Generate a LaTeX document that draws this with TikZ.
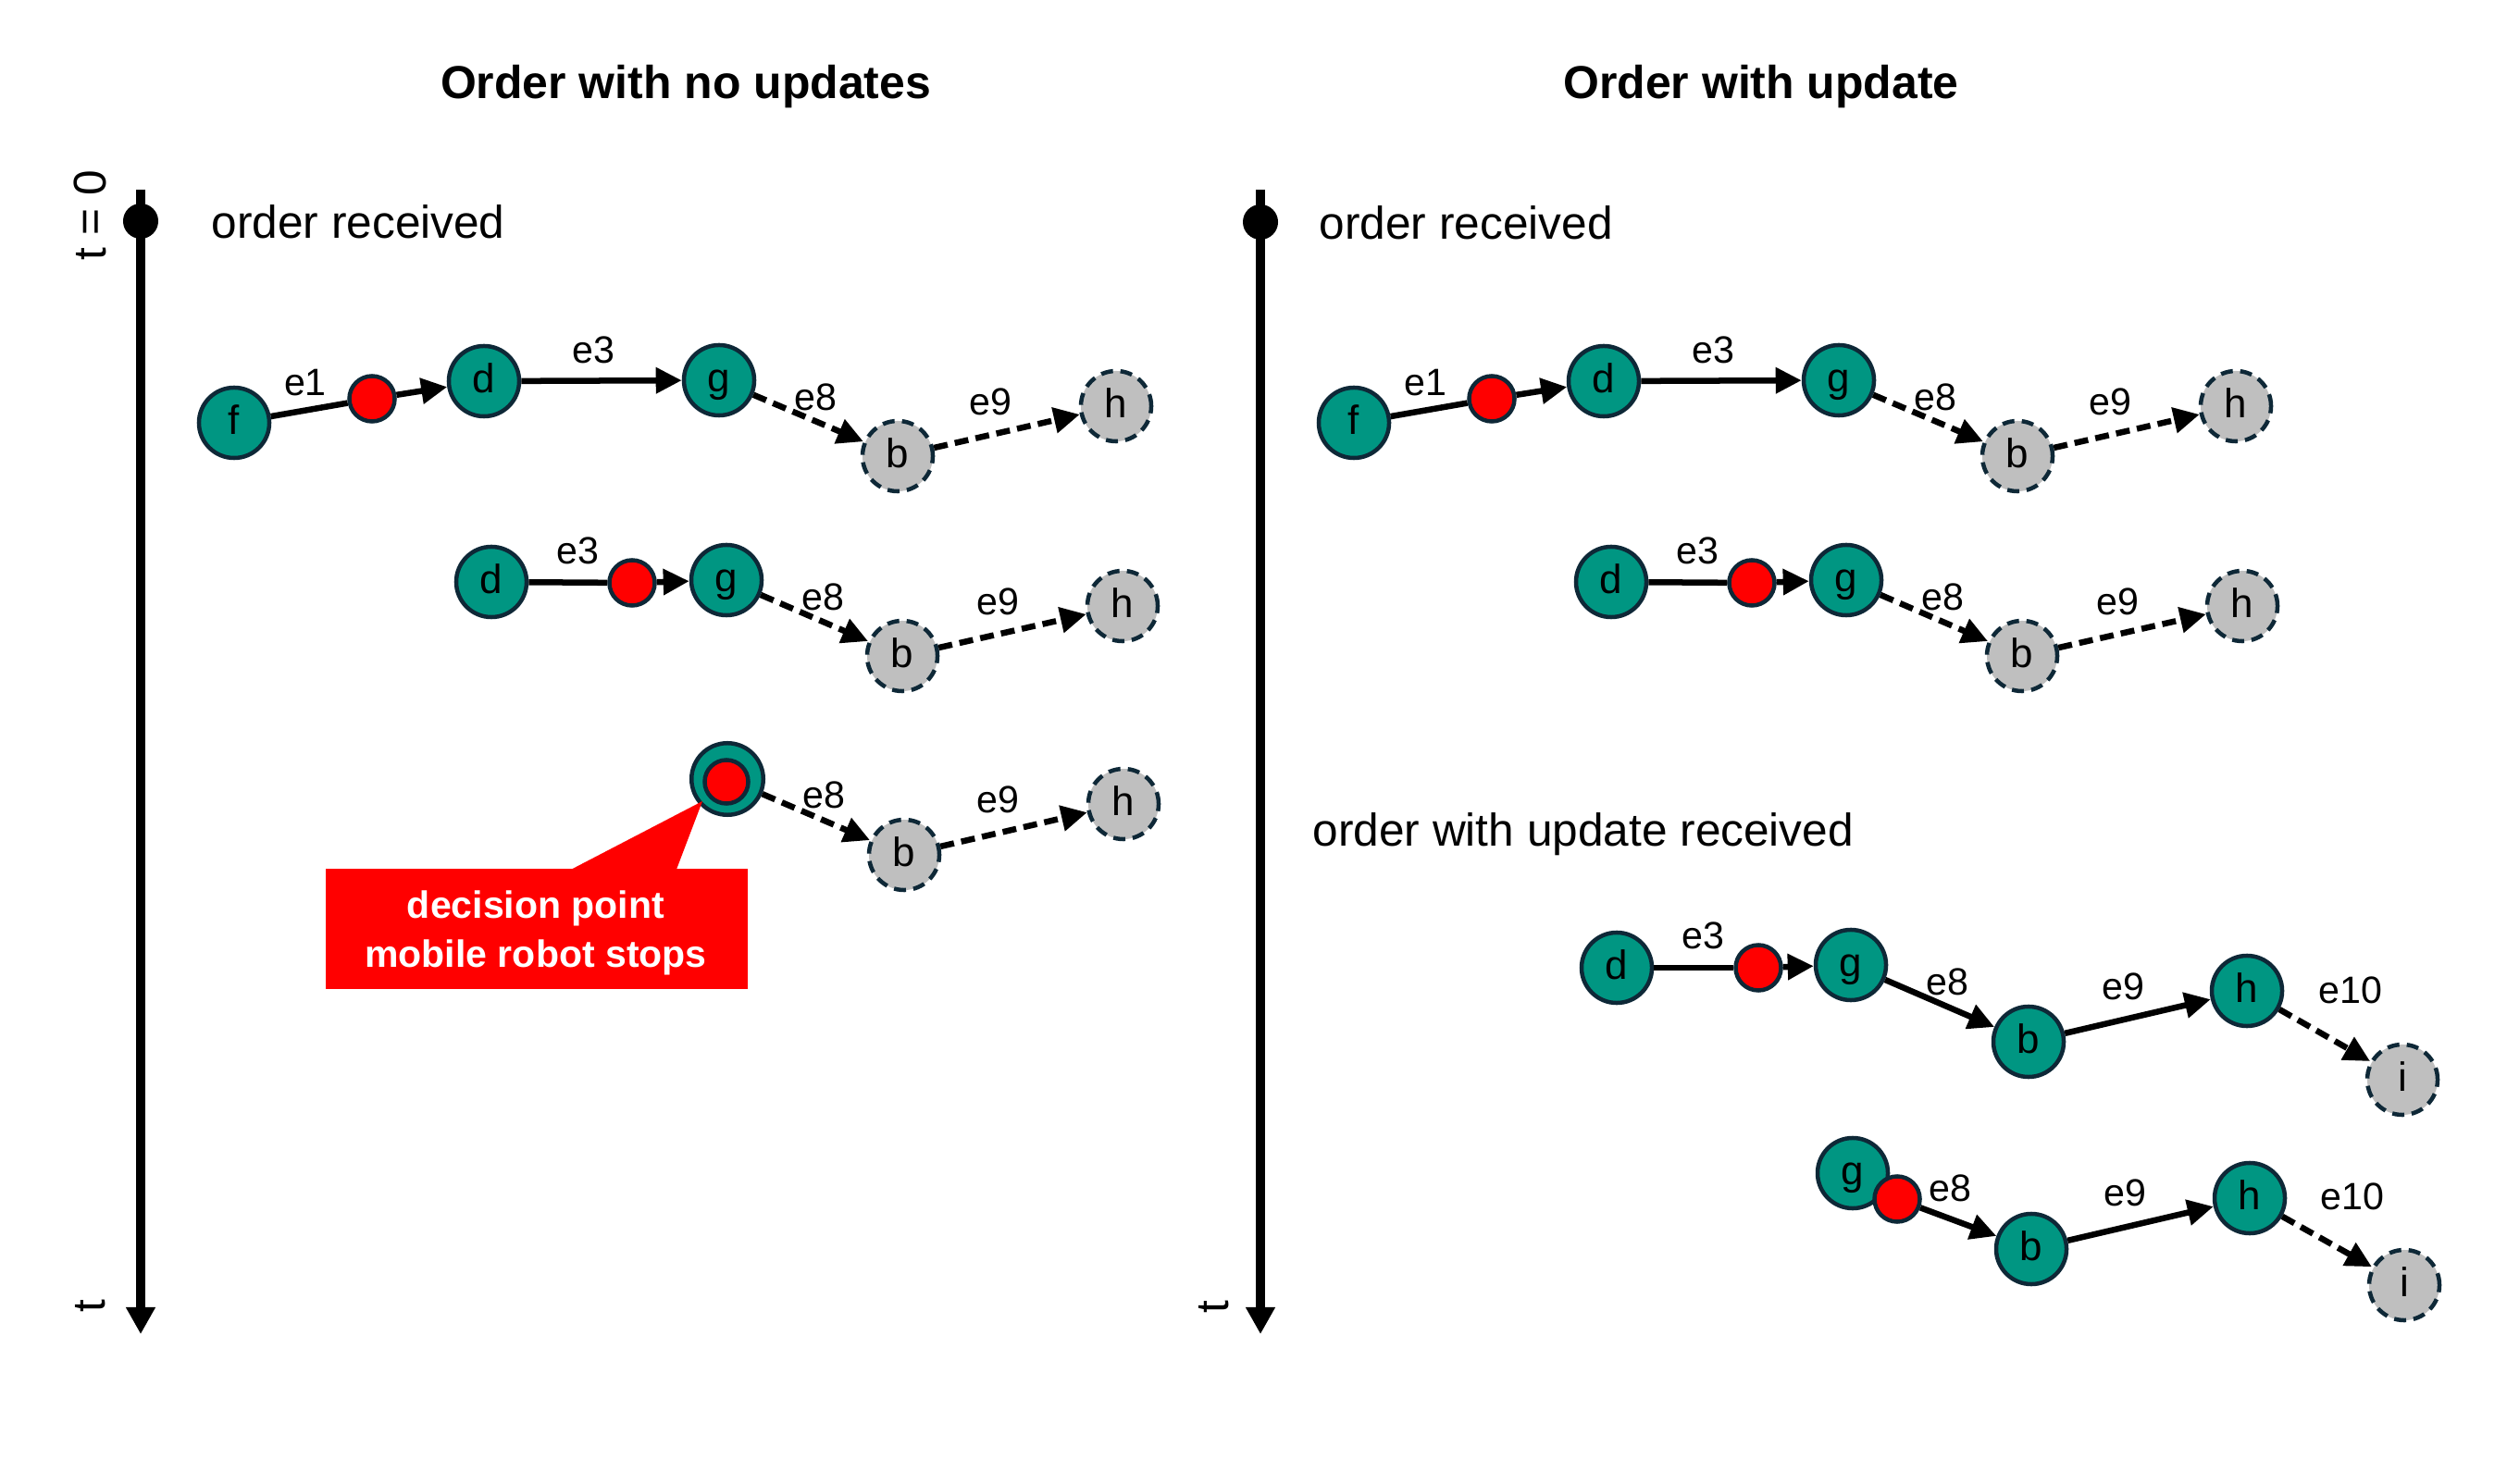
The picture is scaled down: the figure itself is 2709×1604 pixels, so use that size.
\documentclass[tikz,border=0pt]{standalone}
\usepackage{fontspec}
\setmainfont{Liberation Sans}
\usetikzlibrary{arrows.meta,calc}
\definecolor{teal1}{RGB}{0,150,130}
\definecolor{navy1}{RGB}{14,40,55}
\definecolor{gray1}{RGB}{191,191,191}
\definecolor{red1}{RGB}{255,0,0}
\begin{document}
\begin{tikzpicture}[x=0.01cm,y=-0.01cm,
  tn/.style={circle,fill=teal1,draw=navy1,line width=0.045cm,minimum size=0.76cm,inner sep=0pt,
    font=\fontsize{12.5pt}{14pt}\selectfont,text height=0.72em,text depth=0pt},
  gn/.style={tn,fill=gray1,dash pattern=on 0.13cm off 0.08cm},
  rd/.style={circle,fill=red1,draw=navy1,line width=0.045cm,minimum size=0.49cm,inner sep=0pt},
  el/.style={font=\fontsize{11.7pt}{13pt}\selectfont,inner sep=0pt,text height=0.72em,text depth=0pt},
  big/.style={font=\fontsize{14.1pt}{16pt}\selectfont,inner sep=0pt},
  ttl/.style={font=\fontsize{14.2pt}{16pt}\selectfont\bfseries,inner sep=0pt,anchor=base},
  calltext/.style={font=\fontsize{11.67pt}{14pt}\selectfont\bfseries,text=white,inner sep=0pt,anchor=base},
  ed/.style={line width=0.065cm},
  ar/.style={ed,-{Triangle[length=0.28cm,width=0.27cm]}},
  da/.style={ar,dash pattern=on 0.15cm off 0.08cm},
  tax/.style={line width=0.1cm,-{Triangle[length=0.29cm,width=0.3cm]}},
]
\path[use as bounding box] (0,0) rectangle (2709,1604);

% titles
\node[ttl] (T1) at (741,107) {Order with no updates};
\node[ttl] (T2) at (1903,107) {Order with update};

% time axes
\coordinate (A1top) at (152,205);
\coordinate (A1bot) at (152,1442);
\draw[tax] (A1top) -- (A1bot);
\node[circle,fill=black,minimum size=0.38cm,inner sep=0pt] (A1dot) at (152,239) {};
\node[big,rotate=90,anchor=base] (L10) at (114,233) {t = 0};
\node[big,rotate=90,anchor=base] (L1t) at (113,1412) {t};
\node[big,anchor=base west] (OR1) at (228,258) {order received};

\coordinate (A2top) at (1362,205);
\coordinate (A2bot) at (1362,1442);
\draw[tax] (A2top) -- (A2bot);
\node[circle,fill=black,minimum size=0.38cm,inner sep=0pt] (A2dot) at (1362,240) {};
\node[big,rotate=90,anchor=base] (L2t) at (1327,1413) {t};
\node[big,anchor=base west] (OR2) at (1425,259) {order received};
\node[big,anchor=base west] (OU2) at (1418,915) {order with update received};

% ---------- left row 1
\node[tn] (f1) at (253,457) {f};
\node[rd] (r1) at (402,431) {};
\node[tn] (d1) at (523,412) {d};
\node[tn] (g1) at (777,411) {g};
\node[gn] (b1) at (970,493) {b};
\node[gn] (h1) at (1206,439) {h};
\draw[ed] (f1) -- (r1);
\draw[ar] (r1) -- (d1);
\draw[ar] (d1) -- (g1);
\draw[da] (g1) -- (b1);
\draw[da] (b1) -- (h1);
\node[el] (l1a) at (330,415) {e1};
\node[el] (l1b) at (641,380) {e3};
\node[el] (l1c) at (881,431) {e8};
\node[el] (l1d) at (1070,436) {e9};

% ---------- left row 2
\node[tn] (d2) at (531,629) {d};
\node[rd] (r2) at (683,630) {};
\node[tn] (g2) at (785,627) {g};
\node[gn] (b2) at (975,709) {b};
\node[gn] (h2) at (1213,655) {h};
\draw[ed] (d2) -- (r2);
\draw[ar] (r2) -- (g2);
\draw[da] (g2) -- (b2);
\draw[da] (b2) -- (h2);
\node[el] (l2a) at (624,597) {e3};
\node[el] (l2b) at (889,647) {e8};
\node[el] (l2c) at (1078,652) {e9};

% ---------- left row 3
\node[tn,minimum size=0.775cm] (g3) at (786,842) {};
\node[rd,minimum size=0.47cm] (r3) at (785,845) {};
\node[gn] (b3) at (977,924) {b};
\node[gn] (h3) at (1214,869) {h};
\draw[da] (g3) -- (b3);
\draw[da] (b3) -- (h3);
\node[el] (l3a) at (890,861) {e8};
\node[el] (l3b) at (1078,866) {e9};

% callout
\node[fill=red1,minimum width=4.56cm,minimum height=1.30cm,inner sep=0pt] (call) at (580,1004) {};
\coordinate (ctip) at ($(g3.center)+(-27,24)$);
\fill[red1] ($(call.north west)+(267,1)$) -- (ctip) -- ($(call.north west)+(380,1)$) -- cycle;
\node[calltext] (c1) at (579,993) {decision point};
\node[calltext] (c2) at (579,1045) {mobile robot stops};

% ---------- right row 1
\node[tn] (F1) at (1463,457) {f};
\node[rd] (R1) at (1612,431) {};
\node[tn] (D1) at (1733,412) {d};
\node[tn] (G1) at (1987,411) {g};
\node[gn] (B1) at (2180,493) {b};
\node[gn] (H1) at (2416,439) {h};
\draw[ed] (F1) -- (R1);
\draw[ar] (R1) -- (D1);
\draw[ar] (D1) -- (G1);
\draw[da] (G1) -- (B1);
\draw[da] (B1) -- (H1);
\node[el] (M1a) at (1540,415) {e1};
\node[el] (M1b) at (1851,380) {e3};
\node[el] (M1c) at (2091,431) {e8};
\node[el] (M1d) at (2280,436) {e9};

% ---------- right row 2
\node[tn] (D2) at (1741,629) {d};
\node[rd] (R2) at (1893,630) {};
\node[tn] (G2) at (1995,627) {g};
\node[gn] (B2) at (2185,709) {b};
\node[gn] (H2) at (2423,655) {h};
\draw[ed] (D2) -- (R2);
\draw[ar] (R2) -- (G2);
\draw[da] (G2) -- (B2);
\draw[da] (B2) -- (H2);
\node[el] (M2a) at (1834,597) {e3};
\node[el] (M2b) at (2099,647) {e8};
\node[el] (M2c) at (2288,652) {e9};

% ---------- right row 4
\node[tn] (D4) at (1747,1046) {d};
\node[rd] (R4) at (1900,1046) {};
\node[tn] (G4) at (2000,1043) {g};
\node[tn] (B4) at (2192,1126) {b};
\node[tn] (H4) at (2428,1071) {h};
\node[gn] (I4) at (2596,1167) {i};
\draw[ed] (D4) -- (R4);
\draw[ar] (R4) -- (G4);
\draw[ar] (G4) -- (B4);
\draw[ar] (B4) -- (H4);
\draw[da] (H4) -- (I4);
\node[el] (M4a) at (1840,1013) {e3};
\node[el] (M4b) at (2104,1063) {e8};
\node[el] (M4c) at (2294,1068) {e9};
\node[el] (M4d) at (2540,1072) {e10};

% ---------- right row 5
\node[tn] (G5) at (2002,1268) {g};
\node[rd] (R5) at (2050,1296) {};
\node[tn] (B5) at (2195,1350) {b};
\node[tn] (H5) at (2431,1295) {h};
\node[gn] (I5) at (2598,1389) {i};
\draw[ar] (R5) -- (B5);
\draw[ar] (B5) -- (H5);
\draw[da] (H5) -- (I5);
\node[el] (M5a) at (2107,1286) {e8};
\node[el] (M5b) at (2296,1291) {e9};
\node[el] (M5c) at (2542,1295) {e10};
\end{tikzpicture}
\end{document}
